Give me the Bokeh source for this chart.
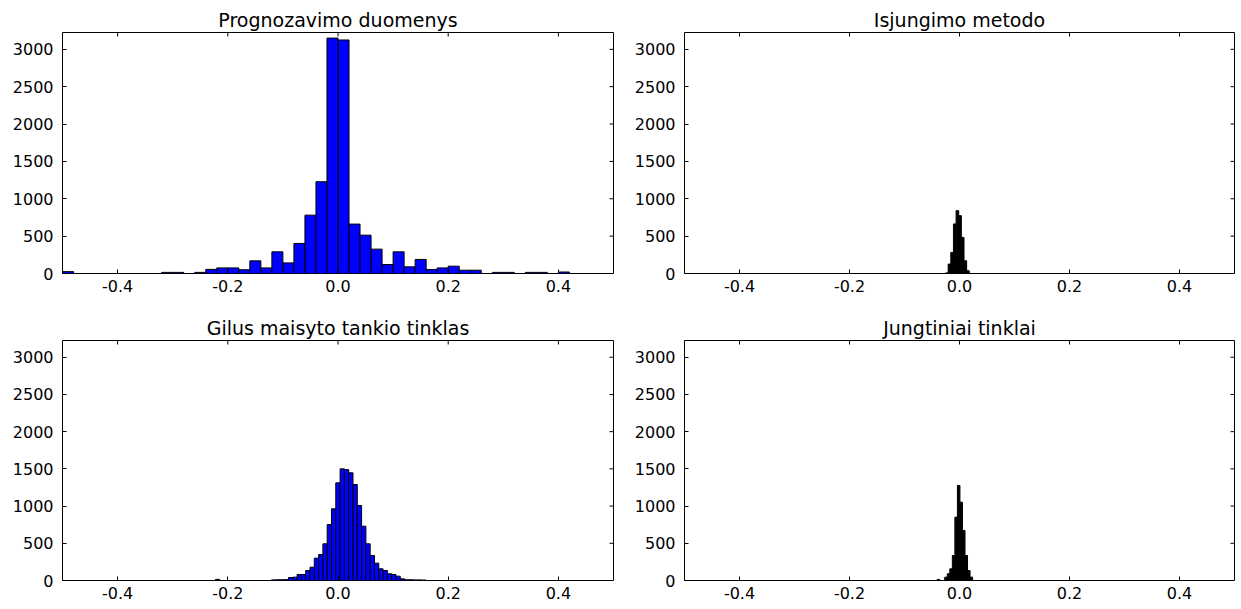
import math
from bokeh.plotting import figure
from bokeh.layouts import gridplot
from bokeh.models import Range1d, FixedTicker, LinearAxis, ColumnDataSource
from bokeh.embed import file_html
from bokeh.resources import INLINE

# ---------------- data ----------------
titles = ["Prognozavimo duomenys", "Isjungimo metodo",
          "Gilus maisyto tankio tinklas", "Jungtiniai tinklai"]

# Panel 1: bins of width 0.02 starting at -0.5
p1_start, p1_width = -0.5, 0.02
p1_counts = [25, 0, 0, 0, 0, 0, 0, 0, 0, 15,
             15, 0, 15, 55, 75, 75, 50, 169, 75, 290,
             142, 402, 781, 1228, 3150, 3125, 661, 513, 326, 120,
             290, 89, 188, 54, 75, 98, 44, 44, 0, 15,
             15, 0, 15, 15, 0, 20, 0, 0, 0, 0]

# Panel 2: narrow bins around zero
p2_start, p2_width = -0.0254, 0.0048
p2_counts = [8, 126, 282, 663, 841, 774, 483, 170, 36]

# Panel 3: bins of width 0.0078
p3_start, p3_width = -0.2224, 0.0078
p3_counts = [15, 0, 0, 0, 0, 0, 0, 0, 0, 0, 0, 0, 0,
             8, 10, 10, 12, 40,
             45, 81, 81, 134, 179, 300, 349, 493, 752, 963,
             1312, 1500, 1490, 1447, 1290, 1008, 730, 493, 336, 233,
             157, 134, 90, 81, 58, 22,
             10, 10, 8, 8, 6]

# Panel 4: narrow bins around zero
p4_start, p4_width = -0.0406, 0.0046
p4_counts = [15, 0, 0, 45, 90, 157, 336, 851, 1277, 1052, 672, 336, 134, 45]

x_ticks = [-0.4, -0.2, 0.0, 0.2, 0.4]
x_tick_labels = ["-0.4", "-0.2", "0.0", "0.2", "0.4"]
y_ticks = [0, 500, 1000, 1500, 2000, 2500, 3000]

X_MIN, X_MAX = -0.5, 0.5
Y_MAX = 3225

FONT = "DejaVu Sans"


def hist_source(start, width, counts):
    left, right, top = [], [], []
    for i, c in enumerate(counts):
        if c <= 0:
            continue
        left.append(start + i * width)
        right.append(start + (i + 1) * width)
        top.append(c)
    return ColumnDataSource(dict(left=left, right=right, top=top,
                                 bottom=[0] * len(top)))


def style_axis(ax, standoff):
    ax.axis_line_color = None
    ax.major_tick_in = 4
    ax.major_tick_out = 0
    ax.major_tick_line_color = "black"
    ax.major_tick_line_width = 1
    ax.minor_tick_line_color = None
    ax.major_label_text_font = FONT
    ax.major_label_text_color = "black"
    ax.major_label_text_font_size = "16px"
    ax.major_label_standoff = standoff


def make_panel(title, start, width, counts, fill, fw, fh, bl, br, bt, bb):
    p = figure(output_backend="svg", toolbar_location=None,
               frame_width=fw, frame_height=fh,
               x_range=Range1d(X_MIN, X_MAX), y_range=Range1d(0, Y_MAX),
               min_border_left=bl, min_border_right=br,
               min_border_top=bt, min_border_bottom=bb,
               x_axis_location=None, y_axis_location=None,
               title=title)
    p.grid.visible = False
    p.title.text_font = FONT
    p.title.text_font_size = "19px"
    p.title.text_font_style = "normal"
    p.title.text_color = "black"
    p.title.align = "center"
    p.title.standoff = 3
    p.outline_line_color = "black"
    p.outline_line_width = 1
    p.background_fill_color = "white"
    p.border_fill_color = "white"

    overrides = {t: l for t, l in zip(x_ticks, x_tick_labels)}

    bottom = LinearAxis(ticker=FixedTicker(ticks=x_ticks))
    bottom.major_label_overrides = overrides
    style_axis(bottom, 6)
    p.add_layout(bottom, "below")

    left = LinearAxis(ticker=FixedTicker(ticks=y_ticks))
    style_axis(left, 9)
    p.add_layout(left, "left")

    # inward ticks on the top and right edges of the frame (matplotlib classic)
    p.ray(x=x_ticks, y=[Y_MAX] * len(x_ticks), length=4, length_units="screen",
          angle=-math.pi / 2, line_color="black", line_width=1)
    p.ray(x=[X_MAX] * len(y_ticks), y=y_ticks, length=4, length_units="screen",
          angle=math.pi, line_color="black", line_width=1)

    src = hist_source(start, width, counts)
    p.quad(left="left", right="right", top="top", bottom="bottom", source=src,
           fill_color=fill, line_color="black", line_width=1)
    return p


p1 = make_panel(titles[0], p1_start, p1_width, p1_counts, "#0000ff",
                551, 241, 62, 18, 32, 35)
p2 = make_panel(titles[1], p2_start, p2_width, p2_counts, "black",
                550, 241, 0, 8, 32, 35)
p3 = make_panel(titles[2], p3_start, p3_width, p3_counts, "#0000ff",
                551, 240, 62, 18, 32, 29)
p4 = make_panel(titles[3], p4_start, p4_width, p4_counts, "black",
                550, 240, 0, 8, 32, 29)

grid = gridplot([[p1, p2], [p3, p4]], toolbar_location=None)

open("out.html", "w").write(file_html(grid, INLINE))
